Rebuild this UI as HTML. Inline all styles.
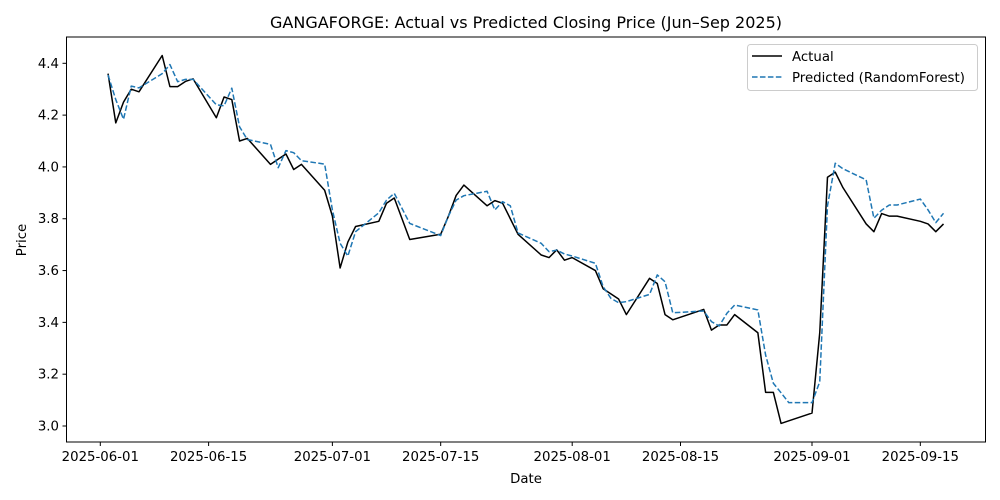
<!DOCTYPE html>
<html><head><meta charset="utf-8"><style>
body{margin:0;background:#fff;}
svg{display:block;font-family:"DejaVu Sans","Liberation Sans",sans-serif;}
</style></head><body>
<svg id="chart" width="1000" height="500" viewBox="0 0 1000 500">
<rect width="1000" height="500" fill="#fff"/>
<text x="526" y="28" text-anchor="middle" font-size="16" fill="#000">GANGAFORGE: Actual vs Predicted Closing Price (Jun–Sep 2025)</text>
<text x="526" y="483" text-anchor="middle" font-size="13.3">Date</text>
<text transform="translate(26,240) rotate(-90)" text-anchor="middle" font-size="13.3">Price</text>
<g id="ticks"></g>
<g id="series"></g>
<rect x="66.5" y="37" width="919" height="405" fill="none" stroke="#000" stroke-width="1"/>
<g>
<rect x="747.5" y="44.5" width="230" height="46" rx="3" fill="#fff" stroke="#ccc" stroke-width="1"/>
<line x1="752" y1="56" x2="782" y2="56" stroke="#000" stroke-width="1.5"/>
<text x="792" y="61" font-size="13.3">Actual</text>
<line x1="752" y1="77" x2="782" y2="77" stroke="#1f77b4" stroke-width="1.5" stroke-dasharray="5.55,2.4"/>
<text x="792" y="82" font-size="13.3">Predicted (RandomForest)</text>
</g>
</svg>
<script>
const dates = ["06-02","06-03","06-04","06-05","06-06","06-09","06-10","06-11","06-12","06-13","06-16","06-17","06-18","06-19","06-20","06-23","06-24","06-25","06-26","06-27","06-30","07-01","07-02","07-03","07-04","07-07","07-08","07-09","07-11","07-15","07-16","07-17","07-18","07-21","07-22","07-23","07-24","07-25","07-28","07-29","07-30","07-31","08-01","08-04","08-05","08-06","08-07","08-08","08-11","08-12","08-13","08-14","08-18","08-19","08-20","08-21","08-22","08-25","08-26","08-27","08-28","08-29","09-01","09-02","09-03","09-04","09-05","09-08","09-09","09-10","09-11","09-12","09-15","09-16","09-17","09-18"];
const actual = [4.36,4.17,4.25,4.30,4.29,4.43,4.31,4.31,4.33,4.34,4.19,4.27,4.26,4.10,4.11,4.01,4.03,4.05,3.99,4.01,3.91,3.81,3.61,3.71,3.77,3.79,3.86,3.88,3.72,3.74,3.81,3.89,3.93,3.85,3.87,3.86,3.80,3.74,3.66,3.65,3.68,3.64,3.65,3.60,3.53,3.51,3.49,3.43,3.57,3.55,3.43,3.41,3.45,3.37,3.39,3.39,3.43,3.36,3.13,3.13,3.01,3.02,3.05,3.36,3.96,3.98,3.92,3.78,3.75,3.82,3.81,3.81,3.79,3.78,3.75,3.78];
const predicted = [4.355,4.26,4.184,4.312,4.305,4.36,4.395,4.329,4.338,4.338,4.24,4.236,4.304,4.155,4.106,4.087,3.997,4.063,4.055,4.024,4.011,3.834,3.705,3.656,3.75,3.823,3.872,3.898,3.782,3.735,3.81,3.872,3.889,3.906,3.834,3.866,3.85,3.745,3.705,3.673,3.679,3.664,3.656,3.628,3.538,3.493,3.476,3.48,3.508,3.583,3.557,3.437,3.444,3.403,3.386,3.435,3.467,3.448,3.274,3.165,3.128,3.09,3.09,3.171,3.85,4.014,3.993,3.95,3.802,3.833,3.853,3.853,3.876,3.834,3.785,3.821];
const yTicks = [3.0,3.2,3.4,3.6,3.8,4.0,4.2,4.4];
const xTickLabels = ["2025-06-01","2025-06-15","2025-07-01","2025-07-15","2025-08-01","2025-08-15","2025-09-01","2025-09-15"];

const NS = "http://www.w3.org/2000/svg";
const day0 = Date.UTC(2025,5,1);
function dayOf(s){ const p = s.split("-").map(Number); const y = p.length===3?p[0]:2025; const m = p.length===3?p[1]:p[0]; const d = p.length===3?p[2]:p[1]; return (Date.UTC(y,m-1,d)-day0)/86400000; }
function xScale(d){ return 100.3 + d*7.736; }
function yScale(v){ return 426 - (v-3.0)*(362.7/1.4); }

const tg = document.getElementById("ticks");
yTicks.forEach(v=>{
  const y = yScale(v);
  const l = document.createElementNS(NS,"line");
  l.setAttribute("x1",62.5); l.setAttribute("x2",66.5); l.setAttribute("y1",y); l.setAttribute("y2",y);
  l.setAttribute("stroke","#000");
  
  
  tg.appendChild(l);
  const t = document.createElementNS(NS,"text");
  t.setAttribute("x",59); t.setAttribute("y",y+4.5); t.setAttribute("text-anchor","end"); t.setAttribute("font-size","13.3");
  t.textContent = v.toFixed(1);
  
  
  tg.appendChild(t);
});
xTickLabels.forEach(s=>{
  const x = xScale(dayOf(s));
  const l = document.createElementNS(NS,"line");
  l.setAttribute("x1",x); l.setAttribute("x2",x); l.setAttribute("y1",442); l.setAttribute("y2",446);
  l.setAttribute("stroke","#000");
  
  
  tg.appendChild(l);
  const t = document.createElementNS(NS,"text");
  t.setAttribute("x",x); t.setAttribute("y",461); t.setAttribute("text-anchor","middle"); t.setAttribute("font-size","13.3");
  t.textContent = s;
  
  
  tg.appendChild(t);
});

const sg = document.getElementById("series");
function addLine(vals, color, dash, name){
  const pts = vals.map((v,i)=>xScale(dayOf(dates[i])).toFixed(2)+","+yScale(v).toFixed(2)).join(" ");
  const pl = document.createElementNS(NS,"polyline");
  pl.setAttribute("points",pts); pl.setAttribute("fill","none"); pl.setAttribute("stroke",color);
  pl.setAttribute("stroke-width","1.5"); pl.setAttribute("stroke-linejoin","round");
  if(dash) pl.setAttribute("stroke-dasharray",dash);
  
  
  sg.appendChild(pl);
}
addLine(actual,"#000",null,"actual-line");
addLine(predicted,"#1f77b4","5.55,2.4","predicted-line");
</script>
</body></html>
